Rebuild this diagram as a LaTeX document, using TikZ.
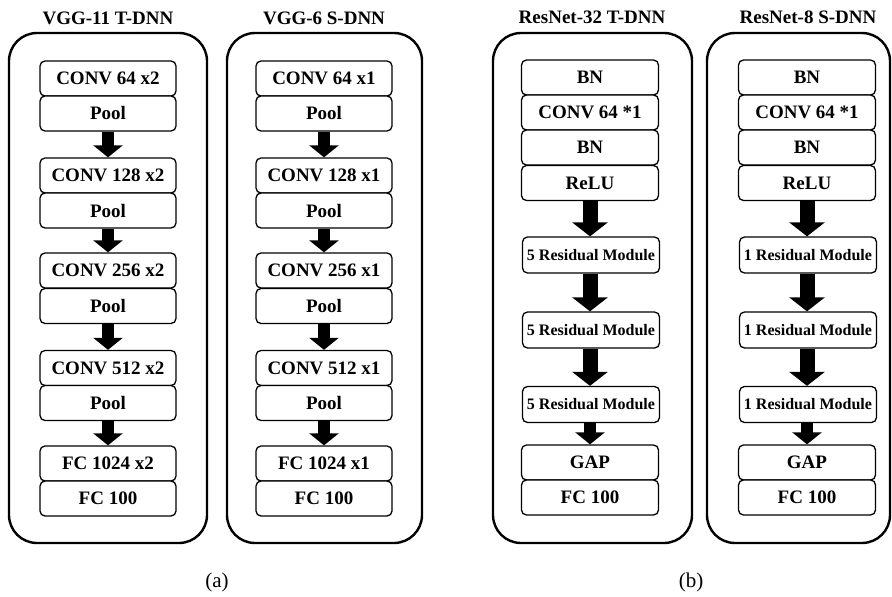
\documentclass[tikz,border=0pt]{standalone}
\usepackage{fontspec}
\setmainfont{Liberation Serif}
\usetikzlibrary{arrows.meta}

\tikzset{
  panel/.style={draw, line width=2.4pt, rounded corners=28pt},
  layer/.style={draw, line width=1.3pt, rounded corners=5pt, fill=white,
    minimum height=35pt, inner sep=0pt,
    font=\fontsize{19}{21}\selectfont\bfseries},
  vgg/.style={layer, minimum width=136pt},
  res/.style={layer, minimum width=137pt},
  resmod/.style={layer, minimum width=137pt, minimum height=36pt,
    font=\fontsize{16}{18}\selectfont\bfseries},
  title/.style={font=\fontsize{19}{21}\selectfont\bfseries},
  caption/.style={font=\fontsize{21}{23}\selectfont},
  flow/.style={line width=12pt, -{Triangle[width=29pt,length=12pt]}},
  bigflow/.style={line width=15pt, -{Triangle[width=35pt,length=14pt]}},
}

\begin{document}
\begin{tikzpicture}[x=1pt,y=-1pt]
\useasboundingbox (0,0) rectangle (892,597);

% outer frames of the four networks
\draw[panel] (9,33) rectangle (207,543);
\draw[panel] (227,33) rectangle (422,543);
\draw[panel] (493,33) rectangle (692,543);
\draw[panel] (707,33) rectangle (890,543);

% titles
\node[title] (t1) at (108,18) {VGG-11 T-DNN};
\node[title] (t2) at (324,18) {VGG-6 S-DNN};
\node[title] (t3) at (592,17) {ResNet-32 T-DNN};
\node[title] (t4) at (808,17) {ResNet-8 S-DNN};

% VGG-11 teacher
\node[vgg] (a1) at (108,78.5) {CONV 64 x2};
\node[vgg] (a2) at (108,113.5) {Pool};
\node[vgg] (a3) at (108,175.5) {CONV 128 x2};
\node[vgg] (a4) at (108,210.5) {Pool};
\node[vgg] (a5) at (108,270.5) {CONV 256 x2};
\node[vgg] (a6) at (108,306) {Pool};
\node[vgg] (a7) at (108,368) {CONV 512 x2};
\node[vgg] (a8) at (108,403) {Pool};
\node[vgg] (a9) at (108,463.5) {FC 1024 x2};
\node[vgg] (a10) at (108,498.5) {FC 100};

% VGG-6 student
\node[vgg] (b1) at (324,78.5) {CONV 64 x1};
\node[vgg] (b2) at (324,113.5) {Pool};
\node[vgg] (b3) at (324,175.5) {CONV 128 x1};
\node[vgg] (b4) at (324,210.5) {Pool};
\node[vgg] (b5) at (324,270.5) {CONV 256 x1};
\node[vgg] (b6) at (324,306) {Pool};
\node[vgg] (b7) at (324,368) {CONV 512 x1};
\node[vgg] (b8) at (324,403) {Pool};
\node[vgg] (b9) at (324,463.5) {FC 1024 x1};
\node[vgg] (b10) at (324,498.5) {FC 100};

% ResNet-32 teacher
\node[res] (c1) at (590,77.5) {BN};
\node[res] (c2) at (590,112.5) {CONV 64 *1};
\node[res] (c3) at (590,147.5) {BN};
\node[res] (c4) at (590,183) {ReLU};
\node[resmod] (c5) at (591,255) {5 Residual Module};
\node[resmod] (c6) at (591,330) {5 Residual Module};
\node[resmod] (c7) at (591,404.5) {5 Residual Module};
\node[res] (c8) at (590,462.5) {GAP};
\node[res] (c9) at (590,497.5) {FC 100};

% ResNet-8 student
\node[res] (d1) at (807,77.5) {BN};
\node[res] (d2) at (807,112.5) {CONV 64 *1};
\node[res] (d3) at (807,147.5) {BN};
\node[res] (d4) at (807,183) {ReLU};
\node[resmod] (d5) at (808,255) {1 Residual Module};
\node[resmod] (d6) at (808,330) {1 Residual Module};
\node[resmod] (d7) at (808,404.5) {1 Residual Module};
\node[res] (d8) at (807,462.5) {GAP};
\node[res] (d9) at (807,497.5) {FC 100};

% block arrows between stages
\draw[flow] (a2.south) -- (a3.north);
\draw[flow] (a4.south) -- (a5.north);
\draw[flow] (a6.south) -- (a7.north);
\draw[flow] (a8.south) -- (a9.north);
\draw[flow] (b2.south) -- (b3.north);
\draw[flow] (b4.south) -- (b5.north);
\draw[flow] (b6.south) -- (b7.north);
\draw[flow] (b8.south) -- (b9.north);

\draw[bigflow] (c4.south) -- (c5.north -| c4.south);
\draw[bigflow] (c5.south -| c4.south) -- (c6.north -| c4.south);
\draw[bigflow] (c6.south -| c4.south) -- (c7.north -| c4.south);
\draw[flow] (c7.south -| c4.south) -- (c8.north);
\draw[bigflow] (d4.south) -- (d5.north -| d4.south);
\draw[bigflow] (d5.south -| d4.south) -- (d6.north -| d4.south);
\draw[bigflow] (d6.south -| d4.south) -- (d7.north -| d4.south);
\draw[flow] (d7.south -| d4.south) -- (d8.north);

% sub-figure captions
\node[caption] (capa) at (217,582) {(a)};
\node[caption] (capb) at (691,582) {(b)};
\end{tikzpicture}
\end{document}
